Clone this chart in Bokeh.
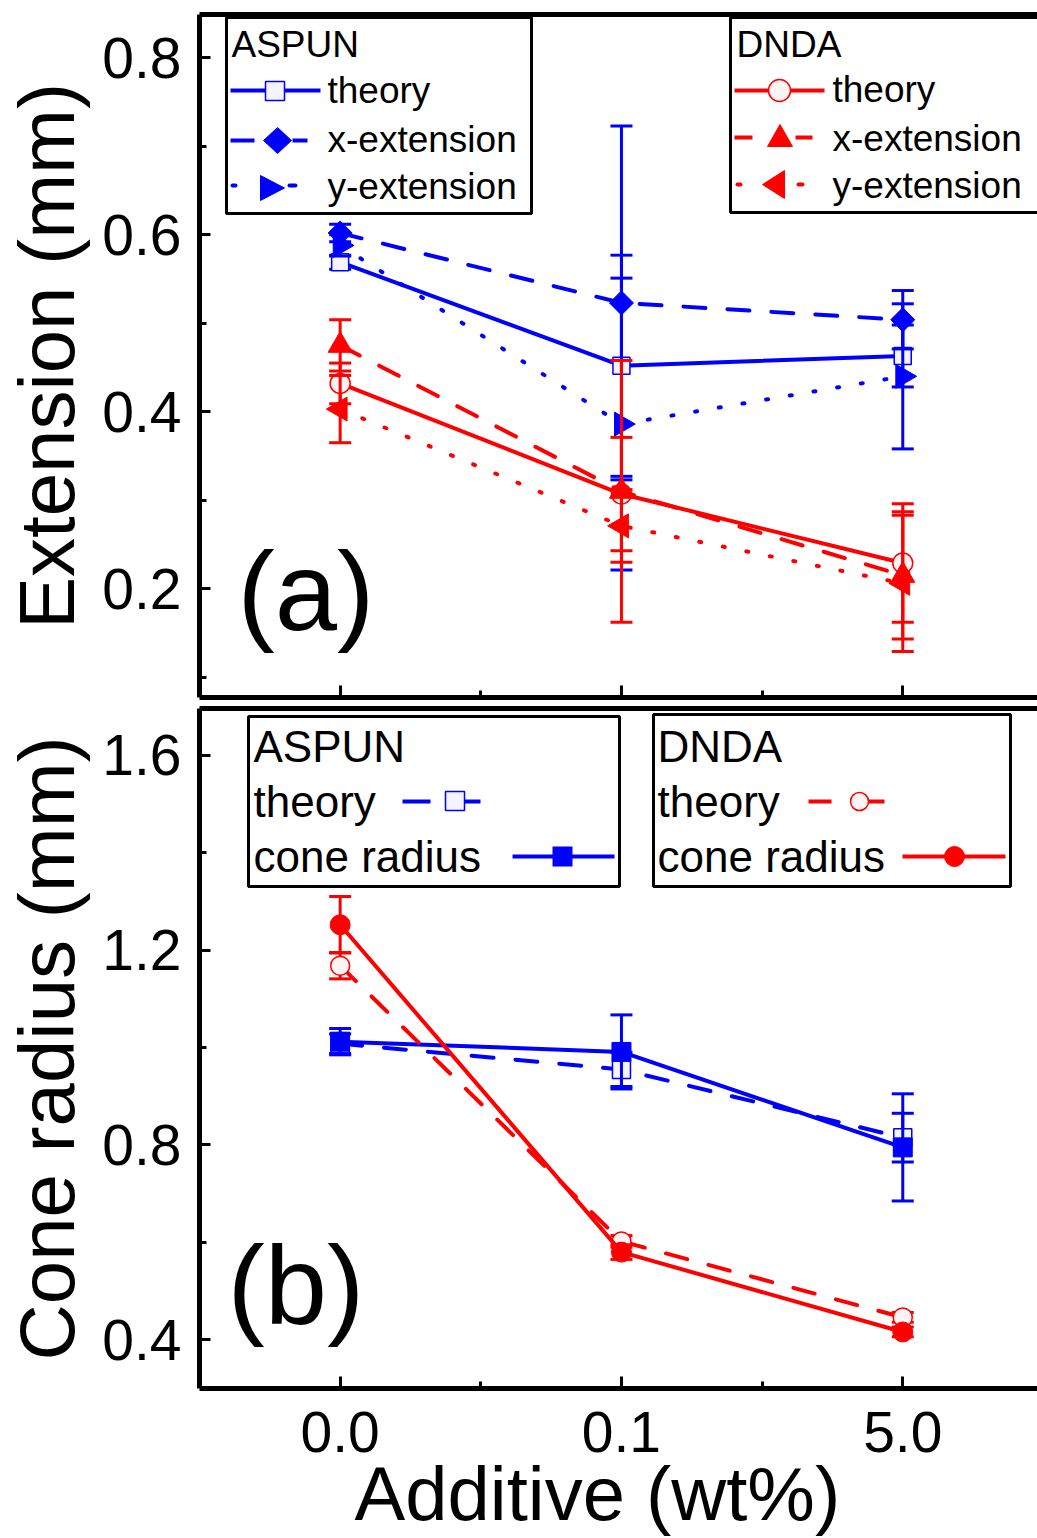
import math
from bokeh.plotting import figure
from bokeh.layouts import column
from bokeh.models import (Range1d, FixedTicker, LinearAxis, Label, BoxAnnotation,
                          PolyAnnotation, ColumnDataSource)
from bokeh.embed import file_html
from bokeh.resources import INLINE

# ---------------- data ----------------
categories = ["0.0", "0.1", "5.0"]
x_pos = [0, 1, 2]

# Panel (a): Extension (mm)
aspun_theory_a = [0.569, 0.452, 0.463]
aspun_theory_a_err = [0.008, 0.125, 0.035]
aspun_xext = [0.602, 0.523, 0.504]
aspun_xext_err = [0.010, 0.200, 0.033]
aspun_yext = [0.588, 0.386, 0.440]
aspun_yext_err = [0.012, 0.165, 0.082]
dnda_theory_a = [0.432, 0.307, 0.229]
dnda_theory_a_err = [0.023, 0.064, 0.067]
dnda_xext = [0.475, 0.310, 0.215]
dnda_xext_err = [0.029, 0.148, 0.072]
dnda_yext = [0.403, 0.271, 0.206]
dnda_yext_err = [0.038, 0.041, 0.077]

# Panel (b): Cone radius (mm)
aspun_theory_b = [1.008, 0.955, 0.815]
aspun_theory_b_err = [0.020, 0.035, 0.050]
aspun_cone = [1.012, 0.991, 0.795]
aspun_cone_err = [0.027, 0.076, 0.110]
dnda_theory_b = [1.168, 0.602, 0.446]
dnda_theory_b_err = [0.027, 0.012, 0.010]
dnda_cone = [1.252, 0.580, 0.416]
dnda_cone_err = [0.058, 0.015, 0.010]

yticks_a = [0.2, 0.4, 0.6, 0.8]
yminor_a = [0.1, 0.3, 0.5, 0.7]
yticks_b = [0.4, 0.8, 1.2, 1.6]
yminor_b = [0.6, 1.0, 1.4]

FONT = "Liberation Sans"
BLUE = "#0000FF"
RED = "#FF0000"


def make_fig(height, yr, border_top, border_bottom):
    p = figure(width=1037, height=height, x_range=Range1d(-0.5, 2.479), y_range=Range1d(*yr),
               output_backend="svg", toolbar_location=None,
               min_border_left=197, min_border_right=0,
               min_border_top=border_top, min_border_bottom=border_bottom)
    p.outline_line_color = None
    p.xgrid.visible = False
    p.ygrid.visible = False
    p.background_fill_color = "white"
    p.border_fill_color = "white"
    top = LinearAxis(ticker=FixedTicker(ticks=[]), axis_line_width=5, axis_line_color="black",
                     major_tick_line_color=None, minor_tick_line_color=None,
                     major_label_standoff=0)
    p.add_layout(top, "above")
    return p


def style_axes(p, yt, ym, ylabel, show_x):
    ya = p.left[0]
    ya.ticker = FixedTicker(ticks=yt, minor_ticks=ym)
    ya.axis_line_width = 5
    ya.axis_line_color = "black"
    ya.major_tick_in = 11
    ya.major_tick_out = 0
    ya.major_tick_line_width = 3
    ya.minor_tick_in = 7
    ya.minor_tick_out = 0
    ya.minor_tick_line_width = 3
    ya.major_label_text_font = FONT
    ya.major_label_text_font_size = "57px"
    ya.major_label_text_color = "black"
    ya.major_label_standoff = 18
    ya.axis_label = ylabel
    ya.axis_label_text_font = FONT
    ya.axis_label_text_font_size = "78px"
    ya.axis_label_text_font_style = "normal"
    ya.axis_label_text_color = "black"
    ya.axis_label_standoff = 8

    xa = p.below[0]
    xa.ticker = FixedTicker(ticks=x_pos, minor_ticks=[0.5, 1.5])
    xa.axis_line_width = 5
    xa.axis_line_color = "black"
    xa.major_tick_in = 12
    xa.major_tick_out = 0
    xa.major_tick_line_width = 3
    xa.minor_tick_in = 7
    xa.minor_tick_out = 0
    xa.minor_tick_line_width = 3
    if show_x:
        xa.major_label_overrides = {k: v for k, v in zip(x_pos, categories)}
        xa.major_label_text_font = FONT
        xa.major_label_text_font_size = "57px"
        xa.major_label_text_color = "black"
        xa.major_label_standoff = 23
        # two trailing no-break spaces shift the centred title slightly left, as in the original
        xa.axis_label = "Additive (wt%)\u00a0\u00a0"
        xa.axis_label_text_font = FONT
        xa.axis_label_text_font_size = "76px"
        xa.axis_label_text_font_style = "normal"
        xa.axis_label_text_color = "black"
        xa.axis_label_standoff = -4
    else:
        xa.major_label_overrides = {k: "" for k in x_pos}
        xa.major_label_text_font_size = "1px"
        xa.major_label_standoff = 0


def series(p, y, err, color, marker, size, dash, fill, angle=0.0, mlw=1.5):
    src = ColumnDataSource(dict(x=x_pos, y=y,
                                lo=[a - b for a, b in zip(y, err)],
                                hi=[a + b for a, b in zip(y, err)]))
    p.line("x", "y", source=src, line_color=color, line_width=4, line_dash=dash,
           line_cap="round" if dash != "solid" else "butt")
    p.segment(x0="x", y0="lo", x1="x", y1="hi", source=src, line_color=color, line_width=3)
    p.scatter("x", "lo", source=src, marker="dash", size=22, line_color=color, line_width=3)
    p.scatter("x", "hi", source=src, marker="dash", size=22, line_color=color, line_width=3)
    p.scatter("x", "y", source=src, marker=marker, size=size, angle=angle,
              fill_color=fill, line_color=color, line_width=mlw)


# ------- helpers for legend decorations (screen units, relative to frame) -------
def sbox(p, l, r, b, t, fill, line=None, lw=0, radius=0):
    p.add_layout(BoxAnnotation(left=l, right=r, bottom=b, top=t,
                               left_units="screen", right_units="screen",
                               bottom_units="screen", top_units="screen",
                               fill_color=fill, fill_alpha=1.0,
                               line_color=line if line else "black", line_width=lw,
                               line_alpha=1.0 if line else 0.0,
                               border_radius=radius))


def spoly(p, xs, ys, color):
    p.add_layout(PolyAnnotation(xs=xs, ys=ys, xs_units="screen", ys_units="screen",
                                fill_color=color, fill_alpha=1.0, line_color=color,
                                line_width=1, line_alpha=1.0))


def slabel(p, x, y, text, size):
    p.add_layout(Label(x=x, y=y, x_units="screen", y_units="screen", text=text,
                       text_font=FONT, text_font_size=size, text_color="black",
                       text_baseline="alphabetic"))


DASH = "22 22"
DOT = "2 22"

# ---------------- panel (a) ----------------
pa = make_fig(702, (0.077, 0.849), 14, 5)
style_axes(pa, yticks_a, yminor_a, "Extension (mm)", False)

series(pa, aspun_theory_a, aspun_theory_a_err, BLUE, "square", 17, "solid", "#f4f4ff")
series(pa, aspun_xext, aspun_xext_err, BLUE, "square", 17, DASH, BLUE, angle=math.pi / 4, mlw=1)
series(pa, aspun_yext, aspun_yext_err, BLUE, "triangle", 24, DOT, BLUE, angle=-math.pi / 2, mlw=1)
series(pa, dnda_theory_a, dnda_theory_a_err, RED, "circle", 20, "solid", "#fff4f4")
series(pa, dnda_xext, dnda_xext_err, RED, "triangle", 24, DASH, RED, mlw=1)
series(pa, dnda_yext, dnda_yext_err, RED, "triangle", 24, DOT, RED, angle=math.pi / 2, mlw=1)

LA = "37px"
# ASPUN legend box (a)
sbox(pa, 27, 332, 484, 680, "white", "black", 3)
slabel(pa, 32, 653, "ASPUN", LA)
slabel(pa, 128, 607, "theory", LA)
slabel(pa, 128, 558, "x-extension", LA)
slabel(pa, 128, 511, "y-extension", LA)
sbox(pa, 31, 121, 605, 609, BLUE)
sbox(pa, 66, 85, 597, 616, "#f4f4ff", BLUE, 1.5)
sbox(pa, 31, 55, 555, 559, BLUE)
sbox(pa, 93, 108, 555, 559, BLUE)
spoly(pa, [64, 78, 92, 78], [557, 570, 557, 544], BLUE)
sbox(pa, 31, 38, 510, 514, BLUE, radius=2)
spoly(pa, [61, 61, 85], [522, 497, 509.5], BLUE)
sbox(pa, 88, 98, 510, 514, BLUE, radius=2)

# DNDA legend box (a)
sbox(pa, 531, 850, 485, 680, "white", "black", 3)
slabel(pa, 537, 653, "DNDA", LA)
slabel(pa, 633, 608, "theory", LA)
slabel(pa, 633, 559, "x-extension", LA)
slabel(pa, 633, 512, "y-extension", LA)
sbox(pa, 535, 625, 605, 609, RED)
sbox(pa, 569, 591, 596, 618, "#fff4f4", RED, 1.5, 11)
sbox(pa, 535, 553, 558, 562, RED)
sbox(pa, 596, 613, 558, 562, RED)
spoly(pa, [568, 593, 580.5], [551, 551, 573], RED)
sbox(pa, 536, 543, 511, 515, RED, radius=2)
spoly(pa, [585, 585, 563], [527, 499, 513], RED)
sbox(pa, 597, 605, 511, 515, RED, radius=2)

slabel(pa, 38, 106, "(a)", "112px")

# ---------------- panel (b) ----------------
pb = make_fig(836, (0.30, 1.696), 6, 148)
style_axes(pb, yticks_b, yminor_b, "Cone radius (mm)", True)

series(pb, aspun_theory_b, aspun_theory_b_err, BLUE, "square", 18, DASH, "#f4f4ff")
series(pb, aspun_cone, aspun_cone_err, BLUE, "square", 19, "solid", BLUE, mlw=1)
series(pb, dnda_theory_b, dnda_theory_b_err, RED, "circle", 19, DASH, "#fff4f4")
series(pb, dnda_cone, dnda_cone_err, RED, "circle", 20, "solid", RED, mlw=1)

LB = "44px"
sbox(pb, 49, 420, 502, 672, "white", "black", 3)
sbox(pb, 454, 811, 502, 674, "white", "black", 3)
slabel(pb, 54, 642, "ASPUN", LB)
slabel(pb, 54, 587, "theory", LB)
slabel(pb, 54, 532, "cone radius", LB)
slabel(pb, 458, 642, "DNDA", LB)
slabel(pb, 458, 587, "theory", LB)
slabel(pb, 458, 532, "cone radius", LB)
# ASPUN samples
sbox(pb, 203, 231, 585, 589, BLUE)
sbox(pb, 265, 281, 585, 589, BLUE)
sbox(pb, 246, 265, 578, 597, "#f4f4ff", BLUE, 1.5)
sbox(pb, 313, 415, 530, 534, BLUE)
sbox(pb, 353, 373, 522, 542, BLUE)
# DNDA samples
sbox(pb, 609, 632, 585, 589, RED)
sbox(pb, 669, 685, 585, 589, RED)
sbox(pb, 651, 669, 578, 596, "#fff4f4", RED, 1.5, 9)
sbox(pb, 703, 806, 530, 534, RED)
sbox(pb, 745, 765, 522, 542, RED, RED, 1, 10)

slabel(pb, 28, 103, "(b)", "112px")

layout = column(pa, pb, spacing=0)
open("out.html", "w").write(file_html(layout, INLINE))
